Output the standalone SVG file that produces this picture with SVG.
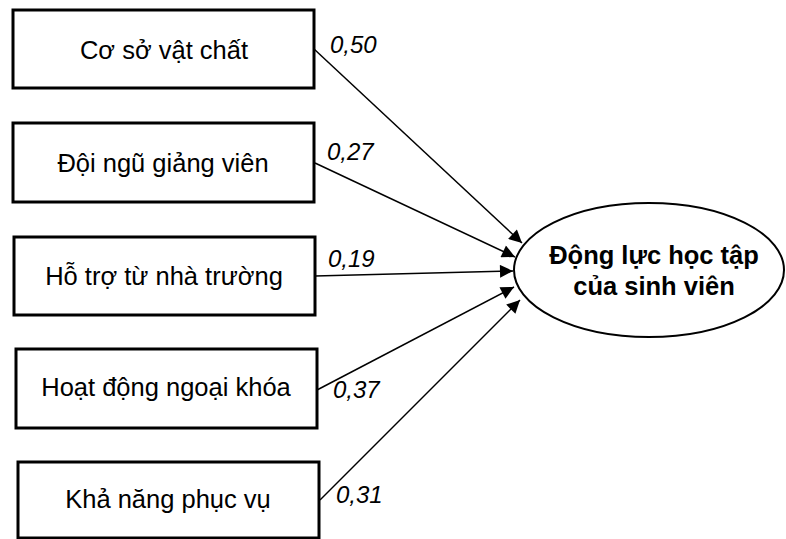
<svg xmlns="http://www.w3.org/2000/svg" width="786" height="539" viewBox="0 0 786 539">
<defs>
<style>
.box{fill:#fff;stroke:#000;stroke-width:3}
.t{font-family:"Liberation Sans",Arial,sans-serif;font-size:25.5px;fill:#000;text-anchor:middle}
.b{font-family:"Liberation Sans",Arial,sans-serif;font-size:25.5px;font-weight:bold;fill:#000;text-anchor:middle}
.w{font-family:"Liberation Sans",Arial,sans-serif;font-size:24px;font-style:italic;fill:#000}
.c{stroke:#000;stroke-width:1.5;fill:none;marker-end:url(#ah)}
</style>
<marker id="ah" viewBox="0 0 10 10" refX="10" refY="5" markerWidth="21" markerHeight="13" markerUnits="userSpaceOnUse" orient="auto">
<path d="M0,0 L10,5 L0,10 z" fill="#000"/>
</marker>
</defs>
<rect width="786" height="539" fill="#fff"/>
<g id="connectors">
<line class="c" x1="314" y1="49" x2="522" y2="243"/>
<line class="c" x1="315" y1="163" x2="515" y2="257"/>
<line class="c" x1="315" y1="276" x2="513" y2="271"/>
<line class="c" x1="317" y1="390" x2="514" y2="287"/>
<line class="c" x1="320" y1="500" x2="520" y2="300"/>
</g>
<g id="n1"><rect class="box" x="13" y="10" width="301" height="78"/><text class="t" x="164" y="59">Cơ sở vật chất</text></g>
<g id="n2"><rect class="box" x="13" y="123" width="301" height="79"/><text class="t" x="163" y="172">Đội ngũ giảng viên</text></g>
<g id="n3"><rect class="box" x="14" y="237" width="301" height="78"/><text class="t" x="164" y="285">Hỗ trợ từ nhà trường</text></g>
<g id="n4"><rect class="box" x="16" y="349" width="301" height="79"/><text class="t" x="166" y="396">Hoạt động ngoại khóa</text></g>
<g id="n5"><rect class="box" x="18" y="462" width="301" height="76"/><text class="t" x="168" y="508">Khả năng phục vụ</text></g>
<g id="target"><ellipse cx="649" cy="270" rx="135" ry="67" fill="#fff" stroke="#000" stroke-width="2"/><text class="b" x="654" y="264">Động lực học tập</text><text class="b" x="654" y="295">của sinh viên</text></g>
<g id="weights">
<text class="w" x="330" y="53">0,50</text>
<text class="w" x="327" y="160">0,27</text>
<text class="w" x="328" y="267">0,19</text>
<text class="w" x="333" y="398">0,37</text>
<text class="w" x="336" y="503">0,31</text>
</g>
</svg>
